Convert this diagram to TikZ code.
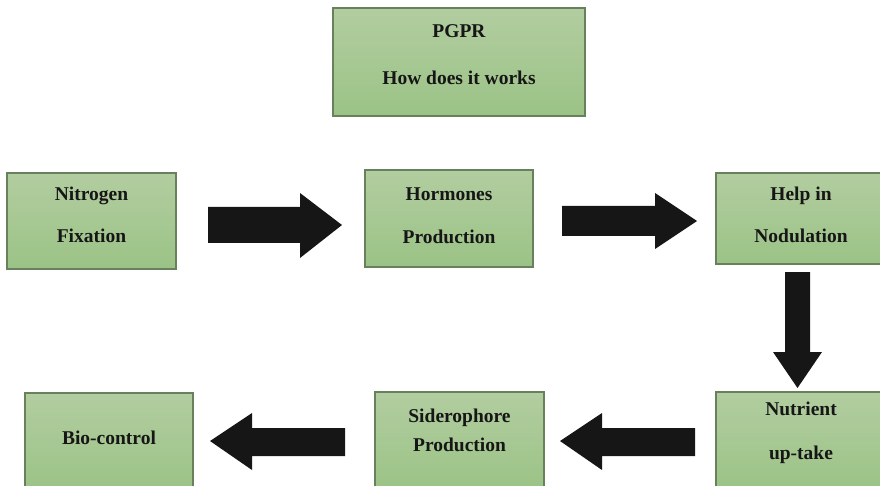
\documentclass[tikz,border=0pt]{standalone}
\usepackage{fontspec}
\setmainfont{Liberation Serif}
\definecolor{boxtop}{RGB}{178,205,160}
\definecolor{boxbot}{RGB}{155,195,134}
\definecolor{boxline}{RGB}{104,128,92}
\definecolor{inkdark}{RGB}{22,22,22}
\begin{document}
\begin{tikzpicture}[x=1pt,y=-1pt,
  box/.style={draw=boxline,line width=1.2pt,top color=boxtop,bottom color=boxbot,
    rectangle,inner sep=0pt},
  lbl/.style={text=inkdark,font=\bfseries\fontsize{19.5}{23}\selectfont,align=center,inner sep=0pt},
  blockarrow/.style={fill=inkdark,draw=none}]
\useasboundingbox (0,0) rectangle (880,486);

% boxes
\node[box,minimum width=252pt,minimum height=108pt] (pgpr) at (459,62) {};
\node[box,minimum width=169pt,minimum height=96pt] (nit) at (91.5,221) {};
\node[box,minimum width=168pt,minimum height=97pt] (hor) at (449,218.5) {};
\node[box,minimum width=170pt,minimum height=91pt] (help) at (801,218.5) {};
\node[box,minimum width=170pt,minimum height=98pt] (nut) at (801,441) {};
\node[box,minimum width=169pt,minimum height=98pt] (sid) at (459.5,441) {};
\node[box,minimum width=168pt,minimum height=98pt] (bio) at (109,442) {};

% labels
\node[lbl] (pgprT) at (459,55) {PGPR\\[24pt]How does it works};
\node[lbl] (nitT) at (91.5,215) {Nitrogen\\[19pt]Fixation};
\node[lbl] (horT) at (449,216) {Hormones\\[20pt]Production};
\node[lbl] (helpT) at (801,215) {Help in\\[19pt]Nodulation};
\node[lbl] (nutT) at (801,433) {Nutrient\\[21pt]up-take};
\node[lbl] (sidT) at (459.5,430) {Siderophore\\[6pt]Production};
\node[lbl] (bioT) at (109,438) {Bio-control};

% block arrows between the boxes
\fill[blockarrow] (208,207) -- (300,207) -- (300,193) -- (342,225)
  -- (300,258) -- (300,243) -- (208,243) -- cycle;
\fill[blockarrow] (562,206) -- (655,206) -- (655,193) -- (697,221)
  -- (655,249) -- (655,236) -- (562,236) -- cycle;
\fill[blockarrow] (785,272) -- (810,272) -- (810,352) -- (822,352) -- (797.5,388)
  -- (773,352) -- (785,352) -- cycle;
\fill[blockarrow] (695,428) -- (602,428) -- (602,413) -- (560,441)
  -- (602,470) -- (602,456) -- (695,456) -- cycle;
\fill[blockarrow] (345,428) -- (252,428) -- (252,413) -- (210,441)
  -- (252,470) -- (252,456) -- (345,456) -- cycle;
\end{tikzpicture}
\end{document}
